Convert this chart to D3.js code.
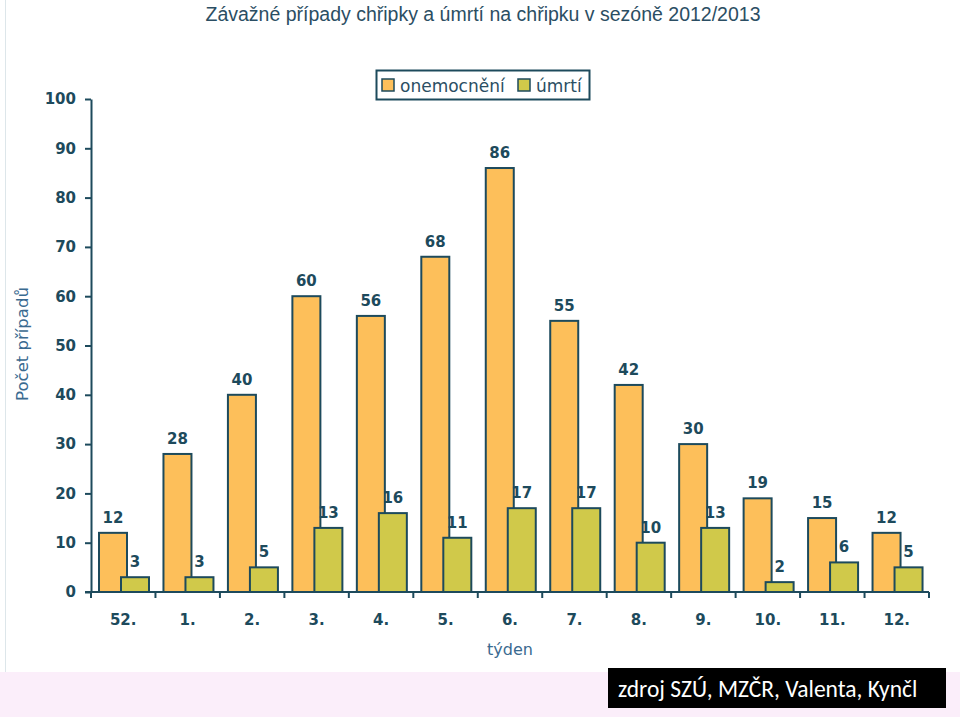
<!DOCTYPE html>
<html>
<head>
<meta charset="utf-8">
<script src="https://cdn.jsdelivr.net/npm/d3@7"></script>
<style>
  body { margin: 0; background: #fff; }
  svg { display: block; }
</style>
</head>
<body>
<svg id="chart" width="960" height="717"></svg>
<script>
// Data
const weeks = ["52.", "1.", "2.", "3.", "4.", "5.", "6.", "7.", "8.", "9.", "10.", "11.", "12."];
const cases = [12, 28, 40, 60, 56, 68, 86, 55, 42, 30, 19, 15, 12];
const deaths = [3, 3, 5, 13, 16, 11, 17, 17, 10, 13, 2, 6, 5];
const yTicks = [0, 10, 20, 30, 40, 50, 60, 70, 80, 90, 100];

const INK = "#1d4a5c";
const ORANGE = "#fdbf5a";
const GREEN = "#d0c94a";
const BOLD_FONT = "DejaVu Sans, Verdana, sans-serif";

const svg = d3.select("#chart");

// pink footer strip and faint left edge line
svg.append("rect").attr("x", 0).attr("y", 672).attr("width", 960).attr("height", 45).attr("fill", "#fbeefa");
svg.append("line").attr("x1", 5.5).attr("x2", 5.5).attr("y1", 0).attr("y2", 672)
    .attr("stroke", "#dde6ea").attr("stroke-width", 1);

const x = d3.scaleBand().domain(weeks).range([91, 929]);
const y = d3.scaleLinear().domain([0, 100]).range([592, 99]);

// Title
svg.append("text")
    .attr("x", 483).attr("y", 21)
    .attr("text-anchor", "middle")
    .attr("font-family", "Liberation Sans Narrow, Liberation Sans, Arial, sans-serif")
    .attr("font-size", 19.5)
    .attr("fill", "#2b4e63")
    .text("Závažné případy chřipky a úmrtí na chřipku v sezóně 2012/2013");

// Y axis
const yAxis = svg.append("g")
    .attr("transform", "translate(91,0)")
    .call(d3.axisLeft(y).tickValues(yTicks).tickSize(6).tickSizeOuter(0));
yAxis.select(".domain").attr("stroke", INK).attr("stroke-width", 2);
yAxis.selectAll(".tick line").attr("stroke", INK).attr("stroke-width", 2);
yAxis.selectAll(".tick text")
    .attr("x", -15)
    .attr("fill", INK)
    .attr("font-family", BOLD_FONT)
    .attr("font-weight", "bold")
    .attr("font-size", 15);

// X axis: ticks between categories
const xAxisG = svg.append("g").attr("transform", "translate(0,592)");
xAxisG.append("line").attr("x1", 85).attr("x2", 929).attr("stroke", INK).attr("stroke-width", 2);
const bounds = weeks.map(w => x(w)).concat([x.range()[1]]);
xAxisG.selectAll("line.tk").data(bounds).enter().append("line")
    .attr("class", "tk")
    .attr("x1", d => d).attr("x2", d => d)
    .attr("y1", 0).attr("y2", 6)
    .attr("stroke", INK).attr("stroke-width", 2);
xAxisG.selectAll("text").data(weeks).enter().append("text")
    .attr("x", d => x(d) + x.bandwidth() / 2)
    .attr("y", 33)
    .attr("text-anchor", "middle")
    .attr("fill", INK)
    .attr("font-family", BOLD_FONT)
    .attr("font-weight", "bold")
    .attr("font-size", 15)
    .text(d => d);

// Bars
const barW = 28, offOrange = 8, offGreen = 30;
const series = [
    { vals: cases, off: offOrange, fill: ORANGE },
    { vals: deaths, off: offGreen, fill: GREEN }
];
series.forEach(s => {
    const g = svg.append("g");
    g.selectAll("rect").data(weeks).enter().append("rect")
        .attr("x", (d, i) => x(d) + s.off)
        .attr("y", (d, i) => y(s.vals[i]))
        .attr("width", barW)
        .attr("height", (d, i) => y(0) - y(s.vals[i]))
        .attr("fill", s.fill)
        .attr("stroke", INK)
        .attr("stroke-width", 2);
    g.selectAll("text").data(weeks).enter().append("text")
        .attr("x", (d, i) => x(d) + s.off + barW / 2)
        .attr("y", (d, i) => y(s.vals[i]) - 10)
        .attr("text-anchor", "middle")
        .attr("fill", INK)
        .attr("font-family", BOLD_FONT)
        .attr("font-weight", "bold")
        .attr("font-size", 15)
        .text((d, i) => s.vals[i]);
});

// Legend
const lg = svg.append("g");
lg.append("rect").attr("x", 376.5).attr("y", 70.5).attr("width", 213).attr("height", 29)
    .attr("fill", "#fff").attr("stroke", INK).attr("stroke-width", 2);
const legendItems = [
    { label: "onemocnění", fill: ORANGE, x: 382 },
    { label: "úmrtí", fill: GREEN, x: 518 }
];
legendItems.forEach(it => {
    lg.append("rect").attr("x", it.x).attr("y", 79).attr("width", 12).attr("height", 12)
        .attr("fill", it.fill).attr("stroke", INK).attr("stroke-width", 1.5);
    lg.append("text").attr("x", it.x + 18).attr("y", 92)
        .attr("fill", "#2b4e63")
        .attr("font-family", BOLD_FONT)
        .attr("font-size", 17)
        .text(it.label);
});

// Axis titles
svg.append("text")
    .attr("transform", "translate(28,344) rotate(-90)")
    .attr("text-anchor", "middle")
    .attr("fill", "#3a6a90")
    .attr("font-family", BOLD_FONT)
    .attr("font-size", 16.5)
    .text("Počet případů");
svg.append("text")
    .attr("x", 510).attr("y", 655)
    .attr("text-anchor", "middle")
    .attr("fill", "#3a6a90")
    .attr("font-family", BOLD_FONT)
    .attr("font-size", 16)
    .text("týden");

// Source box
svg.append("rect").attr("x", 608).attr("y", 668).attr("width", 338).attr("height", 40).attr("fill", "#000");
svg.append("text")
    .attr("x", 618).attr("y", 697)
    .attr("fill", "#fff")
    .attr("font-family", "Carlito, Open Sans, Noto Sans, sans-serif")
    .attr("font-size", 23.5)
    .text("zdroj SZÚ, MZČR, Valenta, Kynčl");
</script>
</body>
</html>
